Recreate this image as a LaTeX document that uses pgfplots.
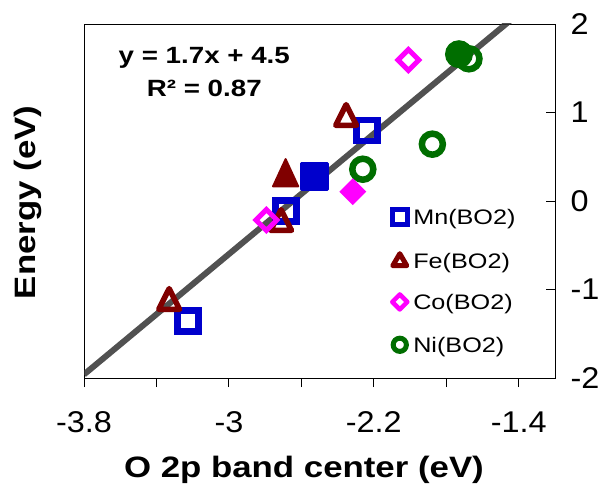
\documentclass[border=0pt]{standalone}
\usepackage{pgfplots}
\pgfplotsset{compat=1.18}
\usepackage{fontspec}
\setmainfont{Liberation Sans}
\newfontfamily\tickfont[FakeStretch=1.08]{Liberation Sans}
\newfontfamily\labfont[FakeStretch=1.18]{Liberation Sans}
\newfontfamily\legfont[FakeStretch=1.2]{Liberation Sans}
\definecolor{mnblue}{RGB}{0,0,204}
\definecolor{fered}{RGB}{128,0,0}
\definecolor{comag}{RGB}{255,0,255}
\definecolor{nigreen}{RGB}{0,110,0}
\definecolor{fitgray}{RGB}{51,51,51}
\begin{document}
\begin{tikzpicture}
\begin{axis}[
  name=ax,
  width=471pt, height=354pt, scale only axis,
  xmin=-3.8, xmax=-1.2, ymin=-2, ymax=2,
  axis line style={black, line width=0.9pt},
  tick align=inside,
  major tick length=9pt, minor tick length=9pt,
  xtick={-3.8,-3,-2.2,-1.4},
  xticklabels={-3.8,-3,-2.2,-1.4},
  minor xtick={-3.4,-2.6,-1.8},
  xtick pos=left,
  x tick style={yshift=-9pt, black, line width=0.9pt},
  ytick={-2,-1,0,1,2},
  yticklabels={-2,-1,0,1,2},
  ytick pos=right, yticklabel pos=right,
  y tick style={black, line width=0.9pt},
  xticklabel style={font=\tickfont\fontsize{30}{36}\selectfont, anchor=base, yshift=-54pt},
  yticklabel style={font=\tickfont\fontsize{30}{36}\selectfont, anchor=west, xshift=12pt},
  xlabel={O 2p band center (eV)},
  ylabel={Energy (eV)},
  xlabel style={font=\labfont\bfseries\fontsize{29.5}{35}\selectfont, at={(axis description cs:0.467,-0.280)}, anchor=base},
  ylabel style={font=\labfont\bfseries\fontsize{29.5}{35}\selectfont, at={(axis description cs:-0.104,0.496)}, anchor=base},
  legend cell align=left,
  legend style={draw=none, fill=none, inner sep=0pt, outer sep=0pt,
    at={(axis cs:-2.112,-0.070)}, anchor=north west, row sep=24pt,
    font=\legfont\fontsize{21}{24}\selectfont,
    nodes={inner xsep=3.5pt, inner ysep=0pt, text height=15pt, text depth=0pt}},
]
% open markers (legend series)
\addplot[only marks, color=mnblue, mark=square, mark size=10.5pt,
  mark options={solid, line width=6.5pt, fill=none},
  legend image code/.code={\draw[mnblue, line width=5pt] (-7.5pt,-7.5pt) rectangle (7.5pt,7.5pt);}]
  coordinates {(-2.237,0.797) (-2.684,-0.111) (-3.225,-1.356)};
\addlegendentry{Mn(BO2)}
\addplot[only marks, color=fered, mark=triangle, mark size=12pt,
  mark options={solid, line width=5.5pt, line join=round, yscale=1.15, fill=none},
  legend image code/.code={\draw[fered, line width=5pt, line join=round] (0pt,7pt) -- (-7pt,-5pt) -- (7pt,-5pt) -- cycle;}]
  coordinates {(-2.353,0.933) (-2.712,-0.254) (-3.330,-1.146)};
\addlegendentry{Fe(BO2)}
\addplot[only marks, color=comag, mark=square, mark size=7.4pt,
  mark options={solid, line width=5pt, rotate=45, fill=none},
  legend image code/.code={\draw[comag, line width=4.5pt, line join=round] (0pt,7.5pt) -- (7.5pt,0pt) -- (0pt,-7.5pt) -- (-7.5pt,0pt) -- cycle;}]
  coordinates {(-2.009,1.593) (-2.793,-0.215)};
\addlegendentry{Co(BO2)}
\addplot[only marks, color=nigreen, mark=o, mark size=10.5pt,
  mark options={solid, line width=6.5pt, fill=none},
  legend image code/.code={\draw[nigreen, line width=5pt] (0pt,0pt) circle (6.6pt);}]
  coordinates {(-1.675,1.607) (-1.877,0.642) (-2.261,0.359)};
\addlegendentry{Ni(BO2)}
% filled markers
\addplot[forget plot, only marks, color=mnblue, mark=square*, mark size=13pt,
  mark options={solid, line width=3pt, line join=round, fill=mnblue}]
  coordinates {(-2.530,0.279)};
\addplot[forget plot, only marks, color=fered, mark=triangle*, mark size=14.5pt,
  mark options={solid, line width=2pt, line join=round, yscale=1.25, fill=fered}]
  coordinates {(-2.687,0.268)};
\addplot[forget plot, only marks, color=comag, mark=square*, mark size=8.5pt,
  mark options={solid, line width=2pt, rotate=45, fill=comag}]
  coordinates {(-2.316,0.105)};
\addplot[forget plot, only marks, color=nigreen, mark=*, mark size=13pt,
  mark options={solid, line width=2pt, fill=nigreen}]
  coordinates {(-1.730,1.659)};
% fit line
\addplot[forget plot, no marks, draw=fitgray, line width=6pt, opacity=0.85]
  coordinates {(-3.8,-1.96) (-1.2,2.46)};
\node[anchor=base, font=\labfont\bfseries\fontsize{23.5}{28}\selectfont] at (axis cs:-3.136,1.556) {y = 1.7x + 4.5};
\node[anchor=base, font=\labfont\bfseries\fontsize{23.5}{28}\selectfont] at (axis cs:-3.136,1.179) {R² = 0.87};
\end{axis}
\pgfresetboundingbox
\path[use as bounding box] ([shift={(-84pt,-106pt)}]ax.south west) rectangle ([shift={(52pt,24pt)}]ax.north east);
\end{tikzpicture}
\end{document}
